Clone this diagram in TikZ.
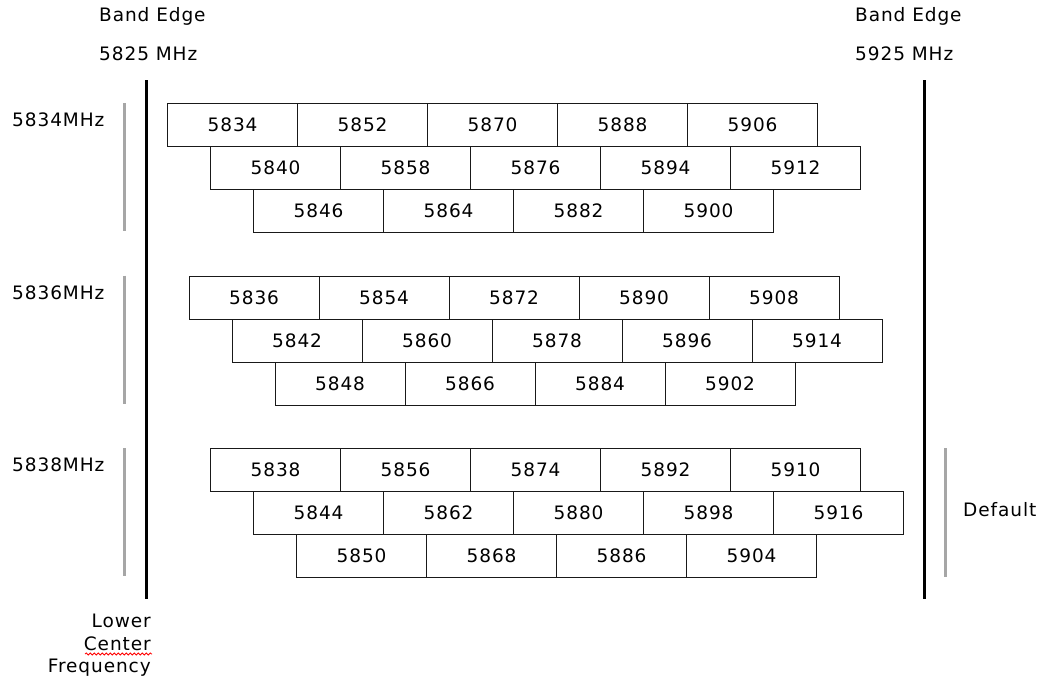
\documentclass[tikz,border=0pt]{standalone}
\usepackage{fontspec}
\setmainfont{DejaVu Sans}[LetterSpace=5]
\usetikzlibrary{decorations.pathmorphing}

\begin{document}
\begin{tikzpicture}[x=1pt,y=-1pt,
	chan/.style={ draw=black!90, line width=1.2pt, minimum width=130pt, minimum height=43pt, inner sep=0pt, anchor=north west, font=\fontsize{18.5}{22}\selectfont },
	txt/.style={ anchor=west, inner sep=0pt, font=\fontsize{18.5}{22.5}\selectfont },
	bandline/.style={ black, line width=3pt },
	grpline/.style={ black!35, line width=3pt }
]
\useasboundingbox (0,0) rectangle (1037,680);

% band edges
\node[txt] (bel) at (99,16) {Band Edge};
\node[txt] (fl) at (99,54) {5825 MHz};
\node[txt] (beh) at (855,16) {Band Edge};
\node[txt] (fh) at (855,54) {5925 MHz};
\draw[bandline] (146,80) -- (146,599);
\draw[bandline] (924,80) -- (924,599);

% channel blocks
\foreach \g in {0,1,2} {
	\foreach \r/\n in {0/4,1/4,2/3} {
		\foreach \c in {0,...,\n} {
			\pgfmathtruncatemacro{\f}{5834+2*\g+6*\r+18*\c}
			\node[chan] (c\f) at ({167+21.5*\g+43*\r+130*\c},{103+172.5*\g+43*\r}) {\f};
		}
	}
}

% lower center frequencies
\foreach \g/\f in {0/5834,1/5836,2/5838} {
	\node[txt] (g\f) at (12,{120+172.5*\g}) {\f MHz};
	\draw[grpline] (124,{103+172.5*\g}) -- (124,{231+172.5*\g});
}
\draw[grpline] (945,448) -- (945,577);
\node[txt] (def) at (963,510) {Default};

\node[txt, anchor=north east, align=right] (lcf) at (151,614) {Lower\\Center\\Frequency};
\draw[red, line width=0.8pt, decorate, decoration={snake, amplitude=1pt, segment length=4pt}] (85,654) -- (152,654);

\end{tikzpicture}
\end{document}
